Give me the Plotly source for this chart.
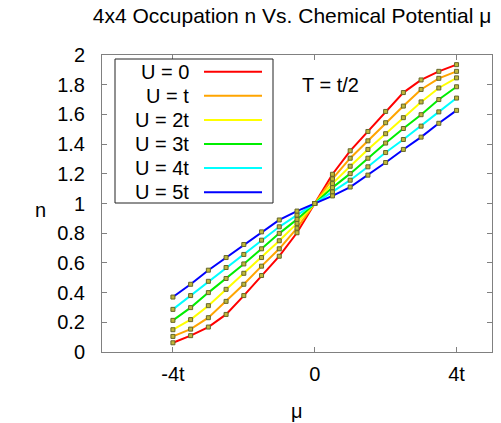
import plotly.graph_objects as go

mu = [-4.0, -3.5, -3.0, -2.5, -2.0, -1.5, -1.0, -0.5, 0.0,
      0.5, 1.0, 1.5, 2.0, 2.5, 3.0, 3.5, 4.0]

n_U0 = [0.062, 0.110, 0.168, 0.253, 0.380, 0.515, 0.645, 0.803, 1.000,
        1.197, 1.355, 1.485, 1.620, 1.747, 1.832, 1.890, 1.935]
n_U1 = [0.105, 0.154, 0.231, 0.341, 0.456, 0.578, 0.695, 0.834, 1.000,
        1.166, 1.305, 1.422, 1.544, 1.656, 1.768, 1.843, 1.890]
n_U2 = [0.150, 0.218, 0.312, 0.422, 0.530, 0.636, 0.749, 0.866, 1.000,
        1.134, 1.251, 1.364, 1.470, 1.578, 1.684, 1.778, 1.846]
n_U3 = [0.213, 0.299, 0.400, 0.495, 0.593, 0.695, 0.799, 0.893, 1.000,
        1.107, 1.201, 1.305, 1.407, 1.505, 1.598, 1.700, 1.786]
n_U4 = [0.287, 0.380, 0.476, 0.569, 0.657, 0.753, 0.843, 0.922, 1.000,
        1.078, 1.157, 1.247, 1.343, 1.431, 1.521, 1.617, 1.710]
n_U5 = [0.370, 0.456, 0.551, 0.636, 0.724, 0.809, 0.889, 0.949, 1.000,
        1.051, 1.111, 1.191, 1.276, 1.364, 1.447, 1.540, 1.627]

labels = ["U = 0", "U = t", "U = 2t", "U = 3t", "U = 4t", "U = 5t"]
colors = ["#ff0000", "#ffa500", "#ffff00", "#00ee00", "#00ffff", "#0000ff"]
series = [n_U0, n_U1, n_U2, n_U3, n_U4, n_U5]

x_tickvals = [-4, 0, 4]
x_ticktext = ["-4t", "0", "4t"]

FONT = "Liberation Sans, Arial, sans-serif"

fig = go.Figure()
for ys, c, lab in zip(series, colors, labels):
    fig.add_trace(go.Scatter(x=mu, y=ys, mode="lines", name=lab,
                             line=dict(color=c, width=2), showlegend=False))
for ys in series:
    fig.add_trace(go.Scatter(x=mu, y=ys, mode="markers", showlegend=False,
                             marker=dict(symbol="square", size=4, color="#c0b838",
                                         line=dict(color="#66662a", width=1))))

# plot area in pixels
L, R, T, B = 102, 492, 55, 352
W, H = 501, 423

def px(x):
    return (x - L) / (R - L)

def py(y):
    return (B - y) / (B - T)

shapes = []
annotations = []
# custom gnuplot-style legend box
shapes.append(dict(type="rect", xref="paper", yref="paper",
                   x0=px(115), x1=px(273), y0=py(203), y1=py(59),
                   line=dict(color="#222222", width=1), fillcolor="white", layer="above"))
for i, (lab, c) in enumerate(zip(labels, colors)):
    yy = 71.7 + 24.1 * i
    annotations.append(dict(xref="paper", yref="paper", x=px(191), y=py(yy),
                            text=lab, showarrow=False, xanchor="right", yanchor="middle",
                            font=dict(family=FONT, size=20, color="black")))
    shapes.append(dict(type="line", xref="paper", yref="paper",
                       x0=px(204), x1=px(262), y0=py(yy), y1=py(yy),
                       line=dict(color=c, width=2), layer="above"))

annotations.append(dict(xref="paper", yref="paper", x=px(300), y=py(85),
                        text="T = t/2", showarrow=False, xanchor="left", yanchor="middle",
                        font=dict(family=FONT, size=20, color="black")))
# axis titles
annotations.append(dict(xref="paper", yref="paper", x=px(297), y=py(411),
                        text="μ", showarrow=False, xanchor="center", yanchor="middle",
                        font=dict(family=FONT, size=20, color="black")))
annotations.append(dict(xref="paper", yref="paper", x=px(40), y=py(210),
                        text="n", showarrow=False, xanchor="center", yanchor="middle",
                        font=dict(family=FONT, size=20, color="black")))

axis_common = dict(showgrid=False, zeroline=False, showline=True, linecolor="#808080",
                   linewidth=1, mirror="ticks", ticks="inside", ticklen=5,
                   tickcolor="#808080", automargin=False,
                   tickfont=dict(family=FONT, size=20, color="black"))

fig.update_layout(
    width=W, height=H,
    margin=dict(l=L, r=W - R, t=T, b=H - B),
    paper_bgcolor="white", plot_bgcolor="white",
    title=dict(text="4x4 Occupation n Vs. Chemical Potential μ",
               x=292 / W, xanchor="center", y=1 - 16 / H, yanchor="middle",
               xref="container", yref="container", automargin=False,
               font=dict(family=FONT, size=21, color="black")),
    xaxis=dict(range=[-6, 5], tickvals=x_tickvals, ticktext=x_ticktext,
               ticklabelstandoff=4, **axis_common),
    yaxis=dict(range=[0, 2], dtick=0.2, tick0=0, ticklabelstandoff=12,
               **axis_common),
    shapes=shapes, annotations=annotations,
    showlegend=False,
)

fig.write_html("out.html")
